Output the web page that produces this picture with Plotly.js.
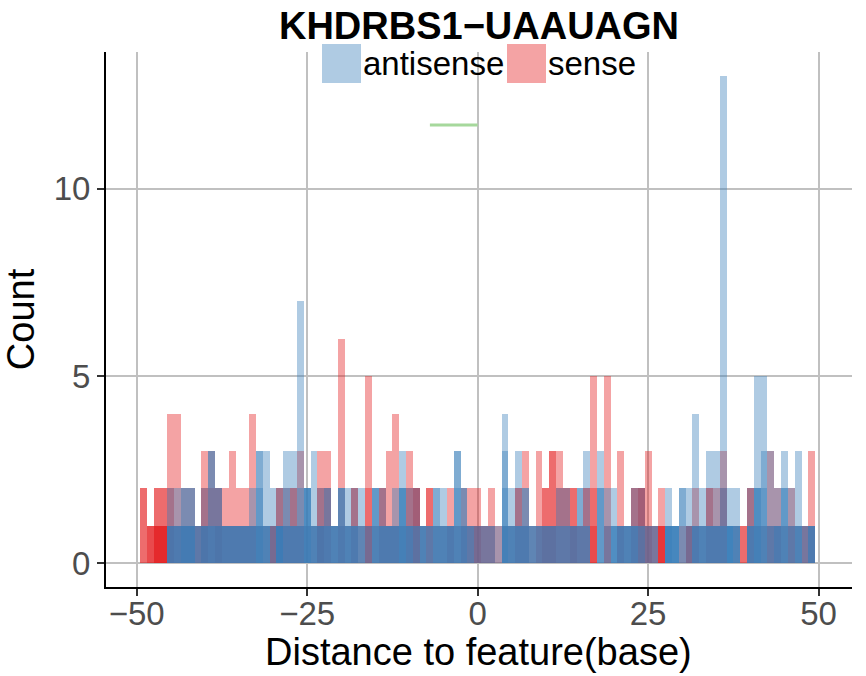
<!DOCTYPE html>
<html>
<head>
<meta charset="utf-8">
<script src="https://cdn.plot.ly/plotly-3.0.1.min.js"></script>
<style>html,body{margin:0;padding:0;background:#fff;}#chart{width:866px;height:676px;}</style>
</head>
<body>
<div id="chart"></div>
<script>
// bin positions (distance to feature, base)
const positions = [-49,-48,-47,-46,-45,-44,-43,-42,-41,-40,-39,-38,-37,-36,-35,-34,-33,-32,-31,-30,
  -29,-28,-27,-26,-25,-24,-23,-22,-21,-20,-19,-18,-17,-16,-15,-14,-13,-12,-11,-10,
  -9,-8,-7,-6,-5,-4,-3,-2,-1,0,1,2,3,4,5,6,7,8,9,10,
  11,12,13,14,15,16,17,18,19,20,21,22,23,24,25,26,27,28,29,30,
  31,32,33,34,35,36,37,38,39,40,41,42,43,44,45,46,47,48,49];

// overlapping counts drawn at each position (one bar per value)
const senseStacks = [
  [2,2],[1,1,1],[2,2,1,1,1],[2,2,1,1,1],[4,2,1],[4,1],[2,1],[2,1],[1,1],[3,2,1],
  [3,2],[2,2,1],[2,1],[3,1],[2,1],[2,1],[4,1],[1],[1],[1,1,1],
  [2,2],[2,1],[2,2],[3,1],[1],[1],[3,2,1],[3,2],[1],[6,1],
  [1],[2,2],[1],[5,2,1],[1],[2,2],[3,1],[4,1],[1],[3,2],
  [2,2,2],[1],[2,2],[1],[1],[2,1],[1],[2,1],[2,1],[2,1,1],
  [1,1],[2,1],[1],[1],[1],[2,2],[3,1],[1],[3,1],[2,2,1],
  [3,3,1],[3,2],[2,2],[2,2,1],[1,1],[2,2],[5,2,1],[],[5,1],[],
  [3,1],[1],[2,2],[2,2,2],[3,1,1],[1,1],[2,1,1,1],[],[],[1],
  [1,1,1],[2,1],[1],[2,2],[2,1],[3,2],[],[1],[1,1],[2,2],
  [1],[1],[3,1],[2,1],[1],[2,1],[1],[1,1],[3,1]
];
const antisenseStacks = [
  [],[],[],[],[2,1,1,1],[2,1,1,1],[2,2,1,1,1],[2,2,1,1,1],[1,1,1],[2,1,1,1],
  [3,3,1,1],[2,2,1,1],[1,1,1,1],[1,1,1,1],[1,1,1,1],[1,1,1,1],[2,1,1,1],[3,3,2,1,1],[3,1,1,1],[2,1],
  [2,1,1,1,1,1],[3,2,1,1],[3,1,1,1],[7,2,1,1],[2,2,2,2,1],[3,1,1,1],[2,1,1,1],[2,2,1,1],[1,1,1,1],[2,2,2,1],
  [2,1,1,1],[2,1,1,1],[2,1,1],[1,1],[2,2,2,1],[2,1,1,1],[1,1,1,1],[2,1,1,1],[3,2,2,2,1],[2,1,1,1],
  [2,1,1],[1,1,1,1],[1,1,1],[2,2,1,1],[2,1,1,1],[1,1,1,1],[3,3,2,1],[2,2,1,1],[1,1,1],[1,1],
  [1,1],[1,1],[1],[4,3,2,1,1],[2,1,1,1],[3,1,1,1],[2,2,1,1],[1,1,1],[1,1,1],[1,1,1],
  [1,1,1],[2,1,1],[2,1,1],[1,1,1],[2,2,1],[3,1,1],[],[3,2,2],[2,1],[2,1,1,1],
  [1,1,1,1],[1,1,1,1],[2,1,1,1],[2,1,1],[1,1],[1,1],[],[2,1,1,1,1,1],[1,1,1,1,1],[2,2],
  [2,1],[4,1,1,1],[2,1,1,1],[3,1,1,1],[3,1,1,1],[13,2,1,1],[2,1,1,1,1,1],[2,1,1,1],[],[2,1,1,1],
  [5,2,2,2,1],[5,3,2,1],[3,1,1],[2,1,1,1],[3,2,2,1],[2,1,1],[3,1,1,1],[1,1],[1,1,1,1]
];

// annotation segment
const segmentX = [-7, 0];
const segmentY = [11.7, 11.7];

const seriesNames = ['antisense', 'sense'];
const seriesColors = ['rgba(55,126,184,0.4)', 'rgba(228,26,28,0.4)'];

function flatten(stacks) {
  const x = [], y = [];
  stacks.forEach((s, i) => s.forEach(h => { x.push(positions[i]); y.push(h); }));
  return {x, y};
}
const sense = flatten(senseStacks);
const anti = flatten(antisenseStacks);

const traces = [
  {type: 'bar', x: sense.x, y: sense.y, width: 1, name: 'sense',
   marker: {color: seriesColors[1], line: {width: 0}}, showlegend: false, hoverinfo: 'x+y'},
  {type: 'bar', x: anti.x, y: anti.y, width: 1, name: 'antisense',
   marker: {color: seriesColors[0], line: {width: 0}}, showlegend: false, hoverinfo: 'x+y'},
  {type: 'scatter', mode: 'lines', x: segmentX, y: segmentY, showlegend: false,
   line: {color: 'rgb(166,216,156)', width: 3}}
];

const FONT = 'Liberation Sans, Arial, sans-serif';
const plotL = 106, plotR = 852, plotT = 52, plotB = 587;
const pw = plotR - plotL, ph = plotB - plotT;
function px2x(p) { return (p - plotL) / pw; }
function py2y(p) { return (plotB - p) / ph; }

const layout = {
  width: 866, height: 676,
  margin: {l: plotL, r: 866 - plotR, t: plotT, b: 676 - plotB, pad: 0},
  paper_bgcolor: '#fff', plot_bgcolor: '#fff',
  barmode: 'overlay', bargap: 0,
  font: {family: FONT, color: '#000'},
  title: {text: '<b>KHDRBS1\u2212UAAUAGN</b>', font: {family: FONT, size: 38, color: '#000'},
          x: 0.5, xref: 'paper', xanchor: 'center', y: 1 - 26/676, yref: 'container', yanchor: 'middle'},
  xaxis: {range: [-54.5, 54.9], tickvals: [-50,-25,0,25,50], ticktext: ['\u221250','\u221225','0','25','50'],
          showgrid: true, gridcolor: 'rgb(192,192,192)', gridwidth: 2, zeroline: false,
          showline: true, linecolor: '#000', linewidth: 2, mirror: false,
          ticks: 'outside', ticklen: 7, tickwidth: 2, tickcolor: '#333',
          ticklabelstandoff: -11,
          tickfont: {family: FONT, size: 33, color: 'rgb(77,77,77)'},
          fixedrange: true},
  yaxis: {range: [-0.63, 13.65], tickvals: [0,5,10], ticktext: ['0','5','10'],
          showgrid: true, gridcolor: 'rgb(192,192,192)', gridwidth: 2, zeroline: false,
          showline: true, linecolor: '#000', linewidth: 2, mirror: false,
          ticks: 'outside', ticklen: 7, tickwidth: 2, tickcolor: '#333',
          tickfont: {family: FONT, size: 33, color: 'rgb(77,77,77)'},
          title: {text: 'Count', font: {family: FONT, size: 38, color: '#000'}, standoff: 8},
          fixedrange: true},
  shapes: [
    {type: 'rect', xref: 'paper', yref: 'paper', x0: px2x(322), x1: px2x(361), y0: py2y(83), y1: py2y(44),
     fillcolor: seriesColors[0], line: {width: 0}, layer: 'above'},
    {type: 'rect', xref: 'paper', yref: 'paper', x0: px2x(507), x1: px2x(546), y0: py2y(83), y1: py2y(44),
     fillcolor: seriesColors[1], line: {width: 0}, layer: 'above'}
  ],
  annotations: [
    {xref: 'paper', yref: 'paper', x: px2x(361), y: py2y(63), xanchor: 'left', yanchor: 'middle',
     text: seriesNames[0], showarrow: false, font: {family: FONT, size: 33, color: '#000'}},
    {xref: 'paper', yref: 'paper', x: px2x(546), y: py2y(63), xanchor: 'left', yanchor: 'middle',
     text: seriesNames[1], showarrow: false, font: {family: FONT, size: 33, color: '#000'}},
    {xref: 'paper', yref: 'paper', x: px2x(478), y: py2y(652), xanchor: 'center', yanchor: 'middle',
     text: 'Distance to feature(base)', showarrow: false, font: {family: FONT, size: 38, color: '#000'}}
  ],
  showlegend: false
};

Plotly.newPlot('chart', traces, layout, {displayModeBar: false, staticPlot: true});
</script>
</body>
</html>
